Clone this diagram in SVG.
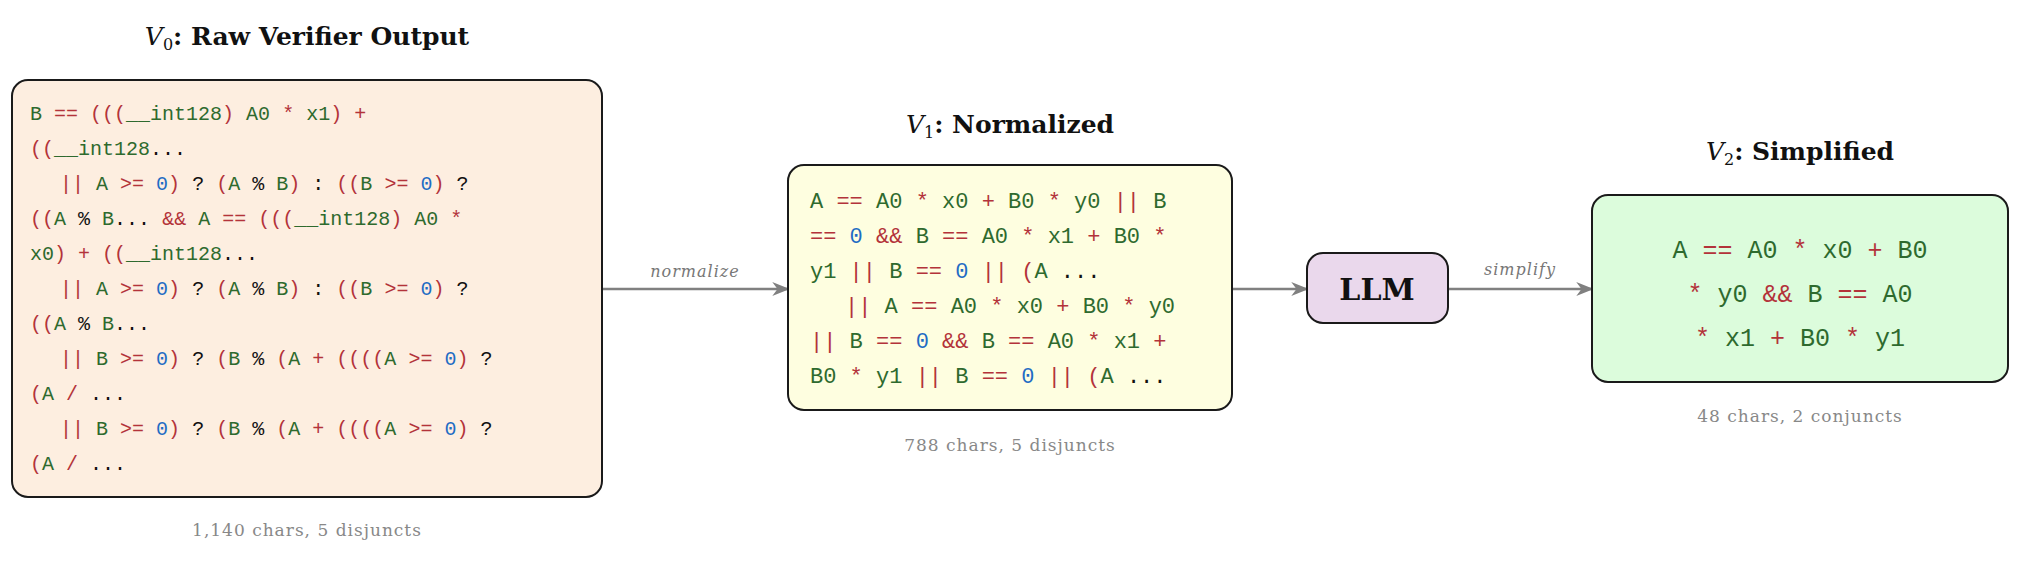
<svg xmlns="http://www.w3.org/2000/svg" width="2023" height="567" viewBox="0 0 2023 567">
<defs>
<marker id="ah" viewBox="0 0 10 10" refX="9" refY="5" markerWidth="7" markerHeight="7" orient="auto"><path d="M0,1 L10,5 L0,9 L3,5 Z" fill="#808080"/></marker>
<style>
.mono{font-family:"Liberation Mono","DejaVu Sans Mono",monospace}
.g{fill:#2e6a2e}.r{fill:#b3333a}.b{fill:#1f6cc4}.k{fill:#111}
.title{font-family:"DejaVu Serif",serif;font-size:25px;font-weight:bold;fill:#111}
.cap{font-family:"DejaVu Serif",serif;font-size:17px;fill:#888;letter-spacing:1px}
.lab{font-family:"DejaVu Serif",serif;font-size:16px;font-style:italic;fill:#777;letter-spacing:1px}
.box{stroke:#1a1a1a;stroke-width:2}
.conn{stroke:#808080;stroke-width:2.5;fill:none;marker-end:url(#ah)}
</style>
</defs>
<rect width="2023" height="567" fill="#fff"/>
<g id="connectors">
<line class="conn" x1="602" y1="289" x2="788" y2="289"/>
<text class="lab" x="695" y="277" text-anchor="middle">normalize</text>
<line class="conn" x1="1232" y1="289" x2="1307" y2="289"/>
<line class="conn" x1="1448" y1="289" x2="1592" y2="289"/>
<text class="lab" x="1520" y="275" text-anchor="middle">simplify</text>
</g>
<g id="v0">
<text class="title" x="307" y="45" text-anchor="middle"><tspan font-style="italic" font-weight="normal">V</tspan><tspan font-size="16" font-weight="normal" dy="5">0</tspan><tspan dy="-5">: Raw Verifier Output</tspan></text>
<rect class="box" x="12" y="80" width="590" height="417" rx="16" fill="#fdeee0"/>
<g class="mono" font-size="20">
<text x="30" y="120"><tspan class="g">B</tspan> <tspan class="r">== (((</tspan><tspan class="g">__int128</tspan><tspan class="r">)</tspan> <tspan class="g">A0</tspan> <tspan class="r">*</tspan> <tspan class="g">x1</tspan><tspan class="r">)</tspan> <tspan class="r">+</tspan></text>
<text x="30" y="155"><tspan class="r">((</tspan><tspan class="g">__int128</tspan><tspan class="k">...</tspan></text>
<text x="60" y="190"><tspan class="r">||</tspan> <tspan class="g">A</tspan> <tspan class="r">&gt;=</tspan> <tspan class="b">0</tspan><tspan class="r">)</tspan> <tspan class="k">?</tspan> <tspan class="r">(</tspan><tspan class="g">A</tspan> <tspan class="k">%</tspan> <tspan class="g">B</tspan><tspan class="r">)</tspan> <tspan class="k">:</tspan> <tspan class="r">((</tspan><tspan class="g">B</tspan> <tspan class="r">&gt;=</tspan> <tspan class="b">0</tspan><tspan class="r">)</tspan> <tspan class="k">?</tspan></text>
<text x="30" y="225"><tspan class="r">((</tspan><tspan class="g">A</tspan> <tspan class="k">%</tspan> <tspan class="g">B</tspan><tspan class="k">...</tspan> <tspan class="r">&amp;&amp;</tspan> <tspan class="g">A</tspan> <tspan class="r">== (((</tspan><tspan class="g">__int128</tspan><tspan class="r">)</tspan> <tspan class="g">A0</tspan> <tspan class="r">*</tspan></text>
<text x="30" y="260"><tspan class="g">x0</tspan><tspan class="r">)</tspan> <tspan class="r">+</tspan> <tspan class="r">((</tspan><tspan class="g">__int128</tspan><tspan class="k">...</tspan></text>
<text x="60" y="295"><tspan class="r">||</tspan> <tspan class="g">A</tspan> <tspan class="r">&gt;=</tspan> <tspan class="b">0</tspan><tspan class="r">)</tspan> <tspan class="k">?</tspan> <tspan class="r">(</tspan><tspan class="g">A</tspan> <tspan class="k">%</tspan> <tspan class="g">B</tspan><tspan class="r">)</tspan> <tspan class="k">:</tspan> <tspan class="r">((</tspan><tspan class="g">B</tspan> <tspan class="r">&gt;=</tspan> <tspan class="b">0</tspan><tspan class="r">)</tspan> <tspan class="k">?</tspan></text>
<text x="30" y="330"><tspan class="r">((</tspan><tspan class="g">A</tspan> <tspan class="k">%</tspan> <tspan class="g">B</tspan><tspan class="k">...</tspan></text>
<text x="60" y="365"><tspan class="r">||</tspan> <tspan class="g">B</tspan> <tspan class="r">&gt;=</tspan> <tspan class="b">0</tspan><tspan class="r">)</tspan> <tspan class="k">?</tspan> <tspan class="r">(</tspan><tspan class="g">B</tspan> <tspan class="k">%</tspan> <tspan class="r">(</tspan><tspan class="g">A</tspan> <tspan class="r">+</tspan> <tspan class="r">((((</tspan><tspan class="g">A</tspan> <tspan class="r">&gt;=</tspan> <tspan class="b">0</tspan><tspan class="r">)</tspan> <tspan class="k">?</tspan></text>
<text x="30" y="400"><tspan class="r">(</tspan><tspan class="g">A</tspan> <tspan class="r">/</tspan> <tspan class="k">...</tspan></text>
<text x="60" y="435"><tspan class="r">||</tspan> <tspan class="g">B</tspan> <tspan class="r">&gt;=</tspan> <tspan class="b">0</tspan><tspan class="r">)</tspan> <tspan class="k">?</tspan> <tspan class="r">(</tspan><tspan class="g">B</tspan> <tspan class="k">%</tspan> <tspan class="r">(</tspan><tspan class="g">A</tspan> <tspan class="r">+</tspan> <tspan class="r">((((</tspan><tspan class="g">A</tspan> <tspan class="r">&gt;=</tspan> <tspan class="b">0</tspan><tspan class="r">)</tspan> <tspan class="k">?</tspan></text>
<text x="30" y="470"><tspan class="r">(</tspan><tspan class="g">A</tspan> <tspan class="r">/</tspan> <tspan class="k">...</tspan></text>
</g>
<text class="cap" x="307" y="536" text-anchor="middle">1,140 chars, 5 disjuncts</text>
</g>
<g id="v1">
<text class="title" x="1010" y="133" text-anchor="middle"><tspan font-style="italic" font-weight="normal">V</tspan><tspan font-size="16" font-weight="normal" dy="5">1</tspan><tspan dy="-5">: Normalized</tspan></text>
<rect class="box" x="788" y="165" width="444" height="245" rx="16" fill="#fefee0"/>
<g class="mono" font-size="22">
<text x="810" y="208"><tspan class="g">A</tspan> <tspan class="r">==</tspan> <tspan class="g">A0</tspan> <tspan class="r">*</tspan> <tspan class="g">x0</tspan> <tspan class="r">+</tspan> <tspan class="g">B0</tspan> <tspan class="r">*</tspan> <tspan class="g">y0</tspan> <tspan class="r">||</tspan> <tspan class="g">B</tspan></text>
<text x="810" y="243"><tspan class="r">==</tspan> <tspan class="b">0</tspan> <tspan class="r">&amp;&amp;</tspan> <tspan class="g">B</tspan> <tspan class="r">==</tspan> <tspan class="g">A0</tspan> <tspan class="r">*</tspan> <tspan class="g">x1</tspan> <tspan class="r">+</tspan> <tspan class="g">B0</tspan> <tspan class="r">*</tspan></text>
<text x="810" y="278"><tspan class="g">y1</tspan> <tspan class="r">||</tspan> <tspan class="g">B</tspan> <tspan class="r">==</tspan> <tspan class="b">0</tspan> <tspan class="r">||</tspan> <tspan class="r">(</tspan><tspan class="g">A</tspan> <tspan class="k">...</tspan></text>
<text x="845" y="313"><tspan class="r">||</tspan> <tspan class="g">A</tspan> <tspan class="r">==</tspan> <tspan class="g">A0</tspan> <tspan class="r">*</tspan> <tspan class="g">x0</tspan> <tspan class="r">+</tspan> <tspan class="g">B0</tspan> <tspan class="r">*</tspan> <tspan class="g">y0</tspan></text>
<text x="810" y="348"><tspan class="r">||</tspan> <tspan class="g">B</tspan> <tspan class="r">==</tspan> <tspan class="b">0</tspan> <tspan class="r">&amp;&amp;</tspan> <tspan class="g">B</tspan> <tspan class="r">==</tspan> <tspan class="g">A0</tspan> <tspan class="r">*</tspan> <tspan class="g">x1</tspan> <tspan class="r">+</tspan></text>
<text x="810" y="383"><tspan class="g">B0</tspan> <tspan class="r">*</tspan> <tspan class="g">y1</tspan> <tspan class="r">||</tspan> <tspan class="g">B</tspan> <tspan class="r">==</tspan> <tspan class="b">0</tspan> <tspan class="r">||</tspan> <tspan class="r">(</tspan><tspan class="g">A</tspan> <tspan class="k">...</tspan></text>
</g>
<text class="cap" x="1010" y="451" text-anchor="middle">788 chars, 5 disjuncts</text>
</g>
<g id="llm">
<rect class="box" x="1307" y="253" width="141" height="70" rx="16" fill="#ead8ec"/>
<text x="1377" y="300" text-anchor="middle" font-family="DejaVu Serif,serif" font-size="30" font-weight="bold" fill="#111">LLM</text>
</g>
<g id="v2">
<text class="title" x="1800" y="160" text-anchor="middle"><tspan font-style="italic" font-weight="normal">V</tspan><tspan font-size="16" font-weight="normal" dy="5">2</tspan><tspan dy="-5">: Simplified</tspan></text>
<rect class="box" x="1592" y="195" width="416" height="187" rx="16" fill="#dcfcdc"/>
<g class="mono" font-size="25" text-anchor="middle">
<text x="1800" y="258"><tspan class="g">A</tspan> <tspan class="r">==</tspan> <tspan class="g">A0</tspan> <tspan class="r">*</tspan> <tspan class="g">x0</tspan> <tspan class="r">+</tspan> <tspan class="g">B0</tspan></text>
<text x="1800" y="302"><tspan class="r">*</tspan> <tspan class="g">y0</tspan> <tspan class="r">&amp;&amp;</tspan> <tspan class="g">B</tspan> <tspan class="r">==</tspan> <tspan class="g">A0</tspan></text>
<text x="1800" y="346"><tspan class="r">*</tspan> <tspan class="g">x1</tspan> <tspan class="r">+</tspan> <tspan class="g">B0</tspan> <tspan class="r">*</tspan> <tspan class="g">y1</tspan></text>
</g>
<text class="cap" x="1800" y="422" text-anchor="middle">48 chars, 2 conjuncts</text>
</g>
</svg>
